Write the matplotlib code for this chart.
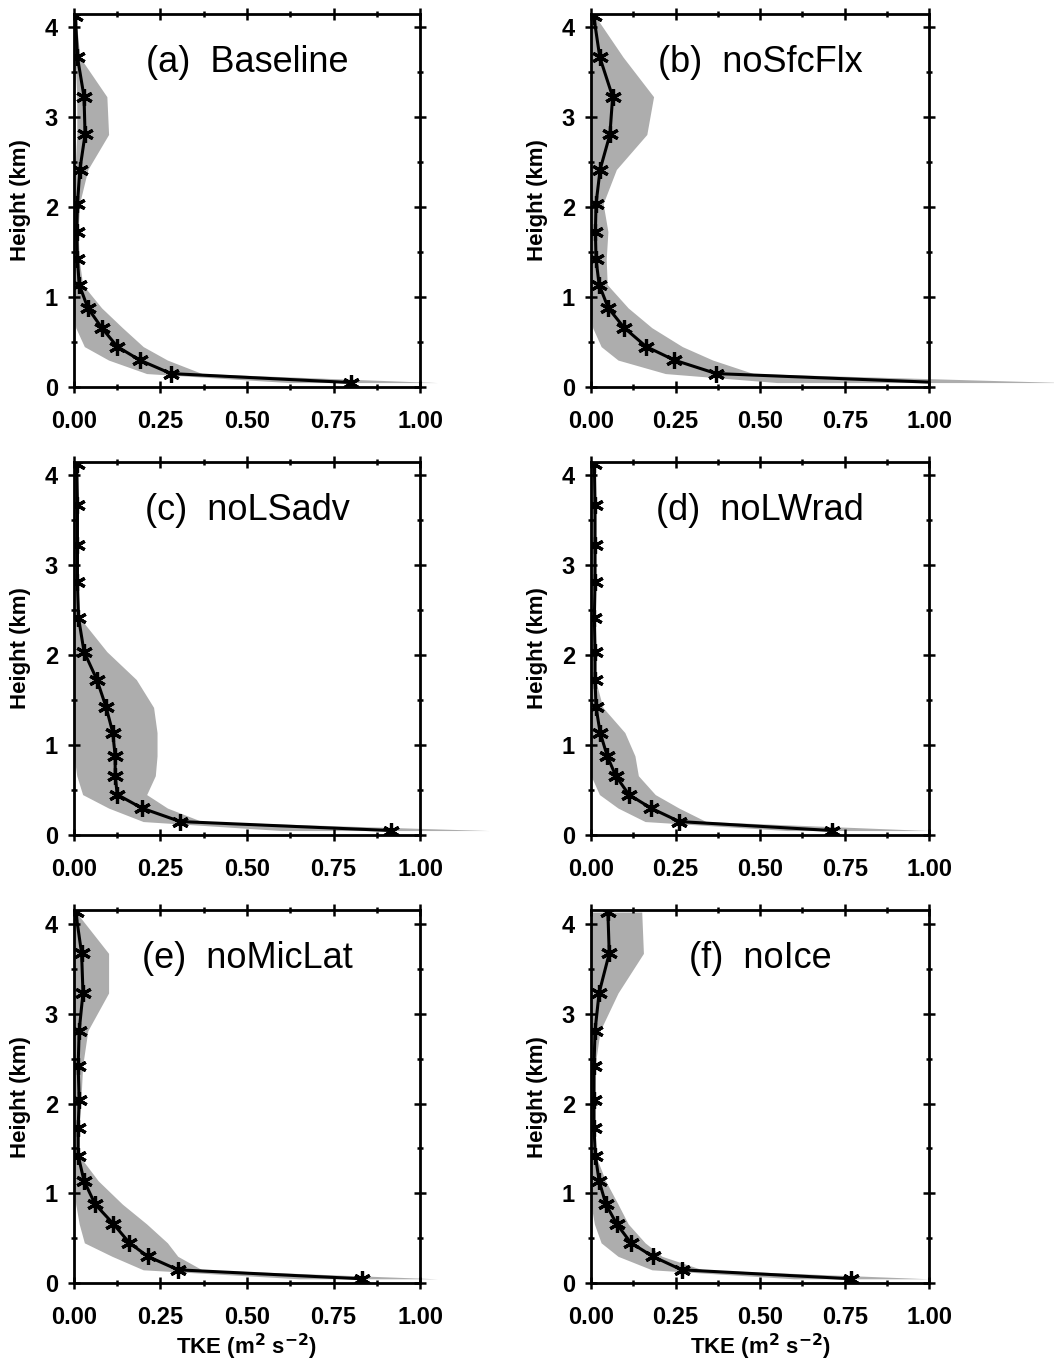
import matplotlib
matplotlib.use('Agg')
import matplotlib.pyplot as plt
from matplotlib.ticker import MultipleLocator, FormatStrFormatter

plt.rcParams['font.family'] = ['Liberation Sans', 'DejaVu Sans']

# model levels (km)
heights = [0.05, 0.15, 0.30, 0.45, 0.66, 0.88, 1.14, 1.42, 1.73, 2.04, 2.42, 2.81, 3.23, 3.67, 4.13]

titles = ['(a)  Baseline', '(b)  noSfcFlx', '(c)  noLSadv',
          '(d)  noLWrad', '(e)  noMicLat', '(f)  noIce']

# ensemble mean TKE (m2 s-2)
tke_a = [0.80, 0.28, 0.19, 0.125, 0.08, 0.04, 0.015, 0.01, 0.008, 0.01, 0.017, 0.032, 0.029, 0.01, 0.004]
tke_b = [1.03, 0.37, 0.246, 0.163, 0.098, 0.051, 0.024, 0.015, 0.013, 0.015, 0.027, 0.056, 0.064, 0.026, 0.008]
tke_c = [0.915, 0.307, 0.196, 0.125, 0.119, 0.119, 0.112, 0.093, 0.066, 0.029, 0.013, 0.01, 0.01, 0.01, 0.008]
tke_d = [0.711, 0.261, 0.177, 0.112, 0.073, 0.048, 0.027, 0.015, 0.012, 0.012, 0.01, 0.012, 0.012, 0.012, 0.01]
tke_e = [0.833, 0.30, 0.213, 0.16, 0.114, 0.061, 0.029, 0.012, 0.012, 0.015, 0.012, 0.015, 0.026, 0.022, 0.005]
tke_f = [0.77, 0.268, 0.182, 0.118, 0.076, 0.044, 0.024, 0.013, 0.009, 0.009, 0.009, 0.012, 0.024, 0.054, 0.05]

# ensemble spread (lower / upper bounds)
lo_a = [0.62, 0.21, 0.10, 0.03, 0.005, 0, 0, 0, 0, 0, 0.003, 0.008, 0.008, 0.003, 0]
hi_a = [1.05, 0.37, 0.27, 0.20, 0.14, 0.08, 0.025, 0.015, 0.012, 0.016, 0.04, 0.10, 0.095, 0.017, 0.005]
lo_b = [0.55, 0.22, 0.08, 0.03, 0.005, 0, 0, 0, 0, 0, 0, 0, 0, 0, 0]
hi_b = [1.40, 0.48, 0.36, 0.27, 0.18, 0.11, 0.048, 0.045, 0.05, 0.036, 0.075, 0.165, 0.185, 0.095, 0.012]
lo_c = [0.60, 0.20, 0.10, 0.025, 0.008, 0, 0, 0, 0, 0, 0, 0, 0, 0, 0]
hi_c = [1.20, 0.37, 0.27, 0.21, 0.235, 0.24, 0.24, 0.23, 0.18, 0.095, 0.016, 0.011, 0.011, 0.011, 0.009]
lo_d = [0.58, 0.16, 0.08, 0.025, 0, 0, 0, 0, 0, 0, 0, 0, 0, 0, 0]
hi_d = [1.00, 0.34, 0.26, 0.19, 0.14, 0.13, 0.10, 0.035, 0.013, 0.013, 0.011, 0.013, 0.013, 0.013, 0.011]
lo_e = [0.65, 0.20, 0.11, 0.03, 0.015, 0.005, 0, 0, 0, 0, 0, 0, 0, 0, 0]
hi_e = [1.05, 0.37, 0.30, 0.27, 0.21, 0.14, 0.07, 0.015, 0.015, 0.02, 0.025, 0.04, 0.10, 0.10, 0.006]
lo_f = [0.60, 0.18, 0.08, 0.03, 0.01, 0, 0, 0, 0, 0, 0, 0, 0, 0, 0]
hi_f = [1.00, 0.33, 0.21, 0.16, 0.11, 0.08, 0.043, 0.014, 0.01, 0.01, 0.012, 0.027, 0.08, 0.155, 0.15]

means = [tke_a, tke_b, tke_c, tke_d, tke_e, tke_f]
lows = [lo_a, lo_b, lo_c, lo_d, lo_e, lo_f]
highs = [hi_a, hi_b, hi_c, hi_d, hi_e, hi_f]

fig = plt.figure(figsize=(10.54, 13.6), dpi=100)

# [left, bottom, width, height] for each panel
lefts = [0.0702, 0.5607]
bottoms = [0.7154, 0.386, 0.0564]
widths = [0.3283, 0.321]
height = 0.2743

for i in range(6):
    row, col = i // 2, i % 2
    ax = fig.add_axes([lefts[col], bottoms[row], widths[col], height])

    ax.fill_betweenx(heights, lows[i], highs[i], color='#adadad', lw=0, clip_on=False, zorder=1)
    ax.plot(means[i], heights, color='black', lw=2.2, marker=(6, 2, 0), ms=12, mew=2.3, zorder=3)

    ax.set_xlim(0, 1)
    ax.set_ylim(0, 4.15)
    ax.xaxis.set_major_locator(MultipleLocator(0.25))
    ax.xaxis.set_minor_locator(MultipleLocator(0.125))
    ax.xaxis.set_major_formatter(FormatStrFormatter('%.2f'))
    ax.yaxis.set_major_locator(MultipleLocator(1))
    ax.yaxis.set_minor_locator(MultipleLocator(0.5))
    ax.tick_params(which='both', direction='inout', top=True, right=True, width=1.8)
    ax.tick_params(which='major', length=9, labelsize=17)
    ax.tick_params(axis='x', which='major', pad=12)
    ax.tick_params(axis='y', which='major', pad=7)
    ax.tick_params(which='minor', length=5)
    for lab in ax.get_xticklabels() + ax.get_yticklabels():
        lab.set_fontweight('bold')
    for sp in ax.spines.values():
        sp.set_linewidth(2.0)

    ax.set_ylabel('Height (km)', fontsize=16, fontweight='bold', labelpad=10)
    if row == 2:
        ax.set_xlabel('TKE (m$^\\mathbf{2}$ s$^\\mathbf{-2}$)', fontsize=16, fontweight='bold', labelpad=2)

    ax.text(0.5, 0.87, titles[i], transform=ax.transAxes, ha='center', va='center', fontsize=26)

fig.savefig('out.png', dpi=100)
